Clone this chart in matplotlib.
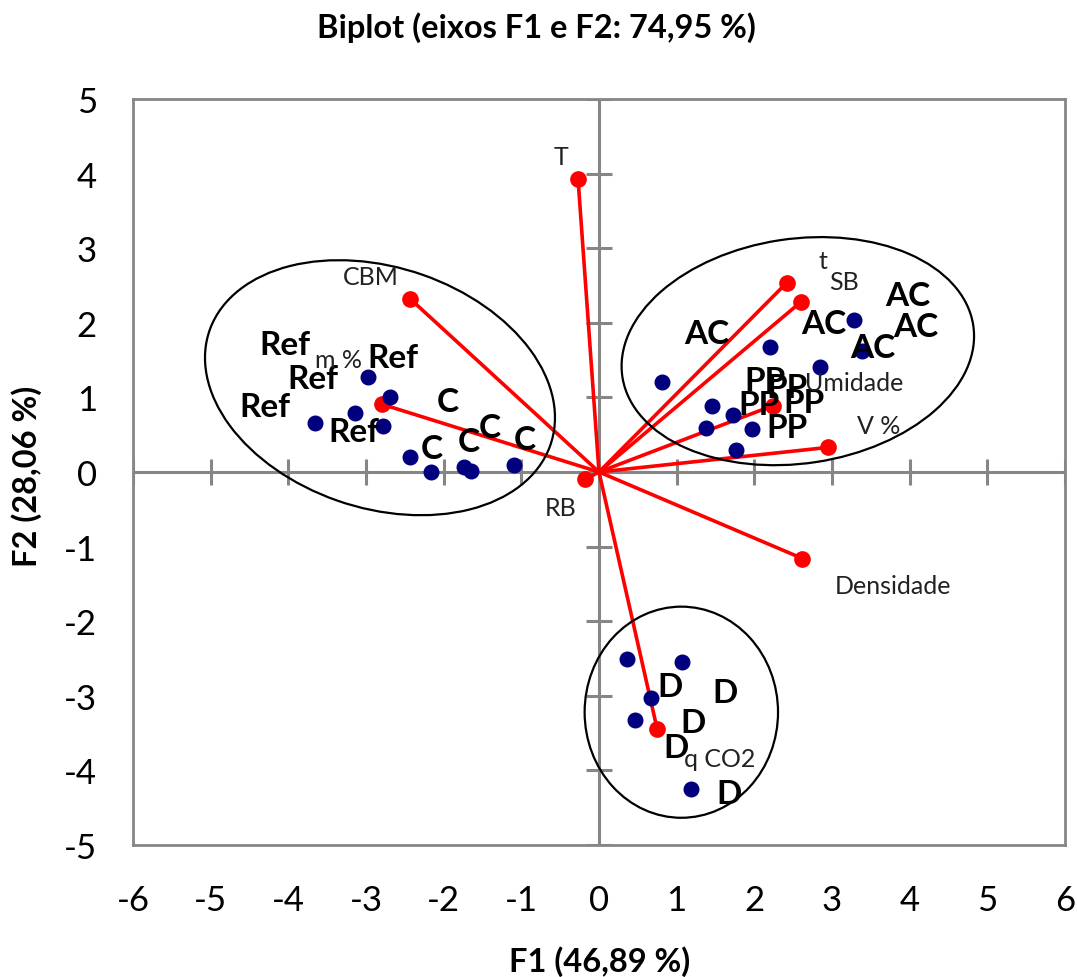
import matplotlib
matplotlib.use('Agg')
import matplotlib.pyplot as plt
from matplotlib.patches import Ellipse

plt.rcParams['font.family'] = ['Lato', 'DejaVu Sans']

# ---------------- data ----------------
title = 'Biplot (eixos F1 e F2: 74,95 %)'
x_label = 'F1 (46,89 %)'
y_label = 'F2 (28,06 %)'
x_ticks = list(range(-6, 7))
y_ticks = list(range(-5, 6))

# observations (blue points)
obs_x = [-2.98, -2.69, -3.14, -3.66, -2.78,
         -2.43, -2.16, -1.74, -1.65, -1.10,
         0.81, 2.20, 3.28, 3.38, 2.84,
         1.46, 1.73, 1.38, 1.97, 1.77,
         0.36, 1.07, 0.67, 0.46, 1.19]
obs_y = [1.27, 1.01, 0.79, 0.66, 0.61,
         0.20, 0.00, 0.07, 0.02, 0.09,
         1.20, 1.68, 2.04, 1.62, 1.41,
         0.89, 0.77, 0.59, 0.58, 0.29,
         -2.51, -2.55, -3.03, -3.32, -4.25]

# observation labels
obs_label_text = ['Ref'] * 5 + ['C'] * 5 + ['AC'] * 5 + ['PP'] * 5 + ['D'] * 5
obs_label_x = [-4.04, -2.65, -3.69, -4.30, -3.16,
               -1.95, -1.41, -0.95, -1.68, -2.15,
               1.39, 2.90, 3.97, 4.08, 3.52,
               2.14, 2.42, 2.06, 2.64, 2.42,
               0.91, 1.62, 1.21, 0.99, 1.68]
obs_label_y = [1.71, 1.54, 1.25, 0.88, 0.54,
               0.95, 0.60, 0.43, 0.41, 0.32,
               1.85, 1.99, 2.36, 1.95, 1.67,
               1.22, 1.13, 0.91, 0.93, 0.60,
               -2.88, -2.95, -3.36, -3.69, -4.31]

# variables (red vectors)
var_x = [-0.27, -2.43, -2.80, -0.18, 2.42, 2.60, 2.24, 2.95, 2.62, 0.75]
var_y = [3.93, 2.32, 0.91, -0.10, 2.54, 2.28, 0.89, 0.33, -1.16, -3.45]

var_label_text = ['T', 'CBM', 'm %', 'RB', 't', 'SB', 'Umidade', 'V %', 'Densidade', 'q CO2']
var_label_x = [-0.49, -2.94, -3.36, -0.49, 2.88, 3.16, 3.29, 3.60, 3.79, 1.56]
var_label_y = [4.23, 2.62, 1.51, -0.47, 2.83, 2.56, 1.20, 0.62, -1.52, -3.84]

# group ellipses: center x, center y, width, height, angle
ell_cx = [-2.82, 2.56, 1.06]
ell_cy = [1.13, 1.62, -3.22]
ell_w = [4.65, 4.57, 2.49]
ell_h = [3.22, 3.01, 2.83]
ell_ang = [-20, 9, 0]

# ---------------- figure ----------------
gray = '#868686'
fig = plt.figure(figsize=(10.77, 9.78), dpi=100)
ax = fig.add_axes([133 / 1077, 1 - 846 / 978, (1065 - 133) / 1077, (846 - 100) / 978])
ax.set_xlim(-6, 6)
ax.set_ylim(-5, 5)

for s in ax.spines.values():
    s.set_color(gray)
    s.set_linewidth(2)

ax.set_xticks(x_ticks)
ax.set_yticks(y_ticks)
ax.set_xticklabels([str(v) for v in x_ticks])
ax.set_yticklabels([str(v) for v in y_ticks])
ax.tick_params(axis='both', length=0, labelsize=25, colors='black')
ax.tick_params(axis='x', pad=28)
ax.tick_params(axis='y', pad=26)

# central axes with cross ticks
ax.axhline(0, color=gray, lw=2.2, zorder=1)
ax.axvline(0, color=gray, lw=2.2, zorder=1)
ax.plot(x_ticks, [0] * len(x_ticks), ls='none', marker='|', ms=19, mew=2.2, color=gray, zorder=1)
ax.plot([0] * len(y_ticks), y_ticks, ls='none', marker='_', ms=19, mew=2.2, color=gray, zorder=1)

# red vectors
for vx, vy in zip(var_x, var_y):
    ax.plot([0, vx], [0, vy], color='#FF0000', lw=2.6, zorder=2, solid_capstyle='round')
ax.plot(var_x, var_y, ls='none', marker='o', ms=11, color='#FF0000', zorder=3)

# ellipses
for cx, cy, w, h, a in zip(ell_cx, ell_cy, ell_w, ell_h, ell_ang):
    ax.add_patch(Ellipse((cx, cy), w, h, angle=a, fill=False, ec='black', lw=1.6, zorder=2.5))

# blue observations
ax.plot(obs_x, obs_y, ls='none', marker='o', ms=10.5, color='#00007F', zorder=4)

# labels
for t, lx, ly in zip(obs_label_text, obs_label_x, obs_label_y):
    ax.text(lx, ly, t, fontsize=24, fontweight='bold', ha='center', va='center', zorder=5)
for t, lx, ly in zip(var_label_text, var_label_x, var_label_y):
    ax.text(lx, ly, t, fontsize=18, ha='center', va='center', color='#222222', zorder=5)

fig.text(536 / 1077, 1 - 38 / 978, title, fontsize=23.5, fontweight='bold', ha='center', va='baseline')
fig.text(600 / 1077, 1 - 972 / 978, x_label, fontsize=23.5, fontweight='bold', ha='center', va='baseline')
fig.text(27 / 1077, 1 - 476 / 978, y_label, fontsize=23.5, fontweight='bold', ha='center', va='center', rotation=90)

fig.savefig('out.png', dpi=100)
